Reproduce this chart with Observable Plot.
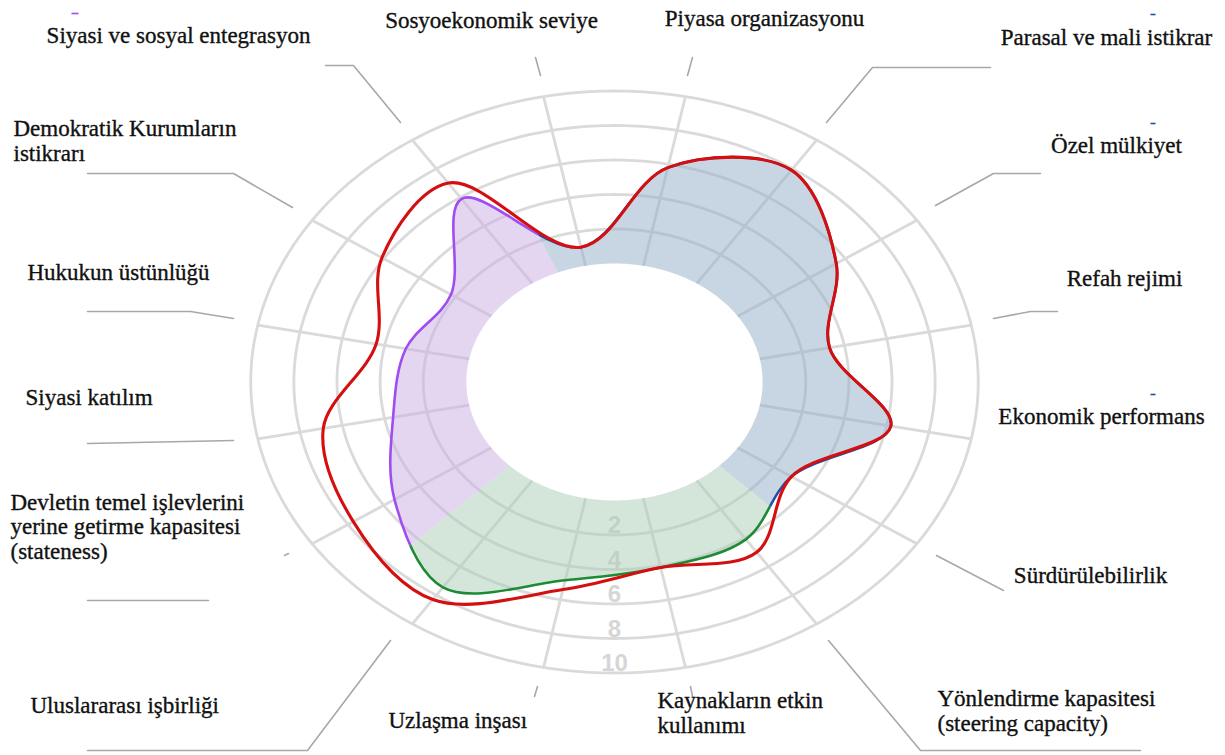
<!DOCTYPE html>
<html>
<head>
<meta charset="utf-8">
<script src="https://cdn.jsdelivr.net/npm/d3@7"></script>
<script src="https://cdn.jsdelivr.net/npm/@observablehq/plot@0.6"></script>
<style>
  html, body { margin: 0; padding: 0; background: #fff; }
  #chart { width: 1225px; height: 755px; }
</style>
</head>
<body>
<div id="chart"></div>
<script>
// ---------------- DATA ----------------
const criteria = [
  "Devletin temel işlevlerini\nyerine getirme kapasitesi\n(stateness)",
  "Siyasi katılım",
  "Hukukun üstünlüğü",
  "Demokratik Kurumların\nistikrarı",
  "Siyasi ve sosyal entegrasyon",
  "Sosyoekonomik seviye",
  "Piyasa organizasyonu",
  "Parasal ve mali istikrar",
  "Özel mülkiyet",
  "Refah rejimi",
  "Ekonomik performans",
  "Sürdürülebilirlik",
  "Yönlendirme kapasitesi\n(steering capacity)",
  "Kaynakların etkin\nkullanımı",
  "Uzlaşma inşası",
  "Uluslararası işbirliği"
];
const dimension = [
  "political", "political", "political", "political", "political",
  "economic", "economic", "economic", "economic", "economic", "economic", "economic",
  "governance", "governance", "governance", "governance"
];
// filled profile (purple / blue / green)
const scoreFilled = [5.4, 3.6, 3.0, 2.25, 5.9, 1.1, 5.8, 7.9, 5.5, 3.3, 6.2, 3.0, 4.1, 4.1, 4.85, 7.45];
// red profile
const scoreRed    = [7.7, 6.9, 4.4, 6.1, 7.0, 1.1, 5.8, 7.9, 5.5, 3.3, 6.2, 3.0, 5.0, 4.1, 5.4, 8.3];
const ringTicks = [2, 4, 6, 8, 10];
const ringLabels = ["2", "4", "6", "8", "10"];

// ---------------- LAYOUT / STYLE ----------------
const W = 1225, H = 755;
const CX = 614, CY = 381.5;          // centre of the dial in px
const UY = 17.25, UX = UY * 1.25;    // px per unit (dial is stretched horizontally)
const HOLE = 118.5 / UY;             // radius of the empty centre, in units
const START = 236.25, STEP = 22.5;   // angle of the first criterion (clockwise from top)

const dims = {
  political:  {fill: "#c9ade1", line: "#a04cf0"},
  economic:   {fill: "#91adc9", line: "#1f4fa8"},
  governance: {fill: "#a9cdb5", line: "#1f8a34"}
};

const labelLayout = [
  {x: 10,   y: 526, anchor: "start"},
  {x: 25,   y: 397, anchor: "start"},
  {x: 27,   y: 272, anchor: "start"},
  {x: 13,   y: 140, anchor: "start"},
  {x: 178,  y: 35,  anchor: "middle"},
  {x: 491,  y: 20,  anchor: "middle"},
  {x: 764,  y: 18,  anchor: "middle"},
  {x: 1106, y: 37,  anchor: "middle"},
  {x: 1116, y: 145, anchor: "middle"},
  {x: 1124, y: 278, anchor: "middle"},
  {x: 1101, y: 416, anchor: "middle"},
  {x: 1090, y: 575, anchor: "middle"},
  {x: 937,  y: 710, anchor: "start"},
  {x: 657,  y: 712, anchor: "start"},
  {x: 388,  y: 720, anchor: "start"},
  {x: 30,   y: 705, anchor: "start"}
];
const leaderLayout = [
  [[288, 553], [284, 555]],
  [[87, 600], [208, 600]],
  [[233, 440], [87, 443]],
  [[233, 318], [190, 311], [87, 311]],
  [[292, 207], [233, 173], [87, 173]],
  [[400, 122], [353, 65], [325, 65]],
  [[540, 75], [535, 57]],
  [[687, 75], [692, 57]],
  [[826, 122], [872, 67], [990, 67]],
  [[935, 205], [993, 173], [1040, 173]],
  [[993, 318], [1030, 311], [1057, 311]],
  [[936, 555], [1003, 590]],
  [[828, 640], [920, 750], [1140, 750]],
  [[690, 686], [692, 696]],
  [[537, 686], [534, 696]],
  [[390, 640], [307, 750], [87, 750]]
];
// small coloured dashes above some labels
const dashLayout = [
  {x1: 71, x2: 78, y: 13, color: "#a04cf0"},
  {x1: 1150, x2: 1155, y: 14, color: "#1f4fa8"},
  {x1: 1150, x2: 1155, y: 123, color: "#1f4fa8"},
  {x1: 1150, x2: 1155, y: 394, color: "#1f4fa8"}
];

// ---------------- GEOMETRY ----------------
const rad = d => d * Math.PI / 180;
const pol = (deg, R) => ({x: R * Math.sin(rad(deg)), y: R * Math.cos(rad(deg))});
const angleOf = i => START + STEP * i;

const XDOM = [-CX / UX, (W - CX) / UX];
const YDOM = [-(H - CY) / UY, CY / UY];
const sx = d3.scaleLinear(XDOM, [0, W]);
const sy = d3.scaleLinear(YDOM, [H, 0]);

const filledPts = criteria.map((c, i) => pol(angleOf(i), HOLE + scoreFilled[i]));
const redPts = criteria.map((c, i) => pol(angleOf(i), HOLE + scoreRed[i]));
const ringPts = ringTicks.flatMap(t => d3.range(0, 360, 1).map(a => ({...pol(a, HOLE + t), ring: t})));
const spokes = criteria.map((c, i) => {
  const a = pol(angleOf(i), HOLE), b = pol(angleOf(i), HOLE + 10);
  return {x1: a.x, y1: a.y, x2: b.x, y2: b.y};
});
const tickText = ringTicks.map((t, i) => ({...pol(180, HOLE + t - 0.55), text: ringLabels[i]}));
const labels = criteria.map((c, i) => ({
  x: sx.invert(labelLayout[i].x), y: sy.invert(labelLayout[i].y), text: c, anchor: labelLayout[i].anchor
}));
const leaders = leaderLayout.flatMap((pts, k) => pts.map(([px, py]) => ({x: sx.invert(px), y: sy.invert(py), k})));
const dashes = dashLayout.map(d => ({x1: sx.invert(d.x1), x2: sx.invert(d.x2), y: sy.invert(d.y), color: d.color}));

const dimNames = Object.keys(dims);
const fillMarks = dimNames.map(d => Plot.line(filledPts, {
  x: "x", y: "y", curve: "catmull-rom-closed",
  fill: dims[d].fill, fillOpacity: 0.5, stroke: "none"
}));
const edgeMarks = dimNames.map(d => Plot.line(filledPts, {
  x: "x", y: "y", curve: "catmull-rom-closed",
  stroke: dims[d].line, strokeWidth: 2.6
}));
const textStyle = {fontSize: 23, fontFamily: "Liberation Serif", fill: "#111", stroke: "#111",
  strokeWidth: 0.35, lineHeight: 1.06, lineAnchor: "middle"};

const svg = Plot.plot({
  width: W, height: H,
  marginTop: 0, marginRight: 0, marginBottom: 0, marginLeft: 0,
  x: {domain: XDOM, axis: null},
  y: {domain: YDOM, axis: null},
  style: {fontFamily: "Liberation Serif", background: "#fff"},
  marks: [
    Plot.line(ringPts, {x: "x", y: "y", z: "ring", curve: "linear-closed", stroke: "#dadada", strokeWidth: 2.8}),
    Plot.link(spokes, {x1: "x1", y1: "y1", x2: "x2", y2: "y2", stroke: "#dadada", strokeWidth: 2.8}),
    Plot.text(tickText, {x: "x", y: "y", text: "text", fontSize: 24, fontWeight: "bold",
      fontFamily: "Liberation Sans", fill: "#d6d6d6"}),
    ...fillMarks,
    ...edgeMarks,
    Plot.line(redPts, {x: "x", y: "y", curve: "catmull-rom-closed", stroke: "#d40f0f", strokeWidth: 3.1}),
    Plot.line(leaders, {x: "x", y: "y", z: "k", stroke: "#a8a8a8", strokeWidth: 1.6}),
    Plot.link(dashes, {x1: "x1", x2: "x2", y1: "y", y2: "y", stroke: "color", strokeWidth: 1.6}),
    Plot.text(labels.filter(d => d.anchor === "start"), {x: "x", y: "y", text: "text", textAnchor: "start", ...textStyle}),
    Plot.text(labels.filter(d => d.anchor === "middle"), {x: "x", y: "y", text: "text", textAnchor: "middle", ...textStyle})
  ]
});

// clip each dimension's fill and outline to its own sector of the ring
const root = d3.select(svg);
const defs = root.insert("defs", ":first-child");
let a0 = START - STEP / 2;
dimNames.forEach(d => {
  const n = dimension.filter(v => v === d).length;
  const a1 = a0 + n * STEP;
  const outer = d3.range(a0, a1 + 0.001, 0.5).map(a => pol(a, 40));
  const inner = d3.range(a1, a0 - 0.001, -0.5).map(a => pol(a, HOLE));
  const path = [...outer, ...inner].map(p => [sx(p.x), sy(p.y)]);
  defs.append("clipPath").attr("id", "clip-" + d)
    .append("path").attr("d", "M" + path.map(p => p.join(",")).join("L") + "Z");
  root.selectAll(`g[fill="${dims[d].fill}"], g[stroke="${dims[d].line}"]`)
    .attr("clip-path", `url(#clip-${d})`);
  a0 = a1;
});

document.getElementById("chart").appendChild(svg);
</script>
</body>
</html>
